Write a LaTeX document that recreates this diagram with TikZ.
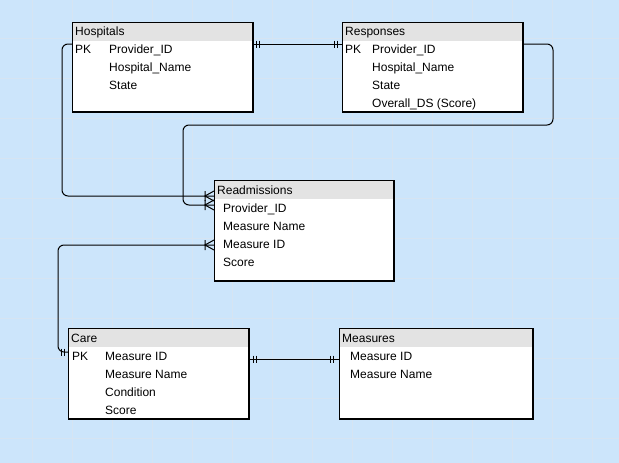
\documentclass[tikz,border=0pt]{standalone}
\usepackage{fontspec}
\setmainfont{Liberation Sans}
\usetikzlibrary{calc}
\definecolor{bgblue}{RGB}{204,229,251}
\definecolor{gridc}{RGB}{214,228,242}
\definecolor{hdrgray}{RGB}{227,227,227}
\tikzset{
  tbl/.style={draw=black, line width=1pt, fill=white, anchor=north west, inner sep=0, minimum width=#1},
  hdr/.style={fill=hdrgray, anchor=north west, inner sep=0, minimum height=18pt, minimum width=#1},
  txt/.style={font=\fontsize{12}{14}\selectfont, inner sep=0, anchor=base west},
  conn/.style={draw=black, line width=1pt, rounded corners=6pt},
  dbar/.pic={\draw[line width=1pt] (0,-3.5) -- (0,3.5) (3,-3.5) -- (3,3.5);},
  crowfoot/.pic={\draw[line width=1pt] (-9,-5) -- (-9,5) (0,-5) -- (-9,0) -- (0,5);}
}
\begin{document}
\begin{tikzpicture}[x=1pt,y=-1pt]
\useasboundingbox (0,0) rectangle (619,463);
\fill[bgblue] (0,0) rectangle (619,463);
\foreach \gx in {32,72,...,612} \draw[gridc, line width=0.5pt] (\gx,0) -- (\gx,463);
\foreach \gy in {38,78,...,458} \draw[gridc, line width=0.5pt] (0,\gy) -- (619,\gy);

% Hospitals
\node[tbl=180pt, minimum height=89pt] (hosp) at (72,22) {};
\node[hdr=179pt] (hosph) at (72.5,22.5) {};
\draw[line width=1pt] (hosp.north west) rectangle (hosp.south east);
\node[txt] (hospt) at (75,35.5) {Hospitals};
\node[txt] (hpk) at (75,53.5) {PK};
\node[txt] (h1) at (109,53.5) {Provider\_ID};
\node[txt] (h2) at (109,71.5) {Hospital\_Name};
\node[txt] (h3) at (109,89.5) {State};

% Responses
\node[tbl=180pt, minimum height=89pt] (resp) at (342,22) {};
\node[hdr=179pt] (resph) at (342.5,22.5) {};
\draw[line width=1pt] (resp.north west) rectangle (resp.south east);
\node[txt] (respt) at (345,35.5) {Responses};
\node[txt] (rpk) at (345,53.5) {PK};
\node[txt] (r1) at (372,53.5) {Provider\_ID};
\node[txt] (r2) at (372,71.5) {Hospital\_Name};
\node[txt] (r3) at (372,89.5) {State};
\node[txt] (r4) at (372,107.5) {Overall\_DS (Score)};

% Readmissions
\node[tbl=179pt, minimum height=100pt] (read) at (214,180) {};
\node[hdr=178pt] (readh) at (214.5,180.5) {};
\draw[line width=1pt] (read.north west) rectangle (read.south east);
\node[txt] (readt) at (217,194.3) {Readmissions};
\node[txt] (d1) at (223,212.3) {Provider\_ID};
\node[txt] (d2) at (223,230.3) {Measure Name};
\node[txt] (d3) at (223,248.3) {Measure ID};
\node[txt] (d4) at (223,266.3) {Score};

% Care
\node[tbl=180pt, minimum height=90pt] (care) at (68,328) {};
\node[hdr=179pt] (careh) at (68.5,328.5) {};
\draw[line width=1pt] (care.north west) rectangle (care.south east);
\node[txt] (caret) at (71,342) {Care};
\node[txt] (cpk) at (72,360) {PK};
\node[txt] (c1) at (105,360) {Measure ID};
\node[txt] (c2) at (105,378) {Measure Name};
\node[txt] (c3) at (105,396) {Condition};
\node[txt] (c4) at (105,414) {Score};

% Measures
\node[tbl=193pt, minimum height=90pt] (meas) at (339,328) {};
\node[hdr=192pt] (meash) at (339.5,328.5) {};
\draw[line width=1pt] (meas.north west) rectangle (meas.south east);
\node[txt] (meast) at (342,342) {Measures};
\node[txt] (m1) at (350,360) {Measure ID};
\node[txt] (m2) at (350,378) {Measure Name};

% ports
\coordinate (hospE) at ($(hosp.north east)+(0,22)$);
\coordinate (hospW) at ($(hosp.north west)+(0,22)$);
\coordinate (respW) at ($(resp.north west)+(0,22)$);
\coordinate (respE) at ($(resp.north east)+(0,22)$);
\coordinate (readW1) at ($(read.north west)+(0,16)$);
\coordinate (readW2) at ($(read.north west)+(0,25)$);
\coordinate (readW3) at ($(read.north west)+(0,65)$);
\coordinate (careW) at ($(care.north west)+(0,24)$);
\coordinate (careE) at ($(care.north east)+(0,31)$);
\coordinate (measW) at ($(meas.north west)+(0,31)$);

% connectors
\draw[conn] (hospE) -- (respW);
\pic at ([xshift=3pt]hospE) {dbar};
\pic at ([xshift=-8pt]respW) {dbar};

\draw[conn] (hospW) -- ++(-10,0) |- (readW1);
\pic at (readW1) {crowfoot};

\draw[conn] (respE) -- ++(30,0) -- ++(0,81) -| ([xshift=-31pt]readW2) -- (readW2);
\pic at (readW2) {crowfoot};

\draw[conn] (careW) -- ++(-10,0) |- (readW3);
\pic at (readW3) {crowfoot};
\pic at ([xshift=-6.5pt]careW) {dbar};

\draw[conn] (careE) -- (measW);
\pic at ([xshift=4pt]careE) {dbar};
\pic at ([xshift=-9pt]measW) {dbar};
\end{tikzpicture}
\end{document}
